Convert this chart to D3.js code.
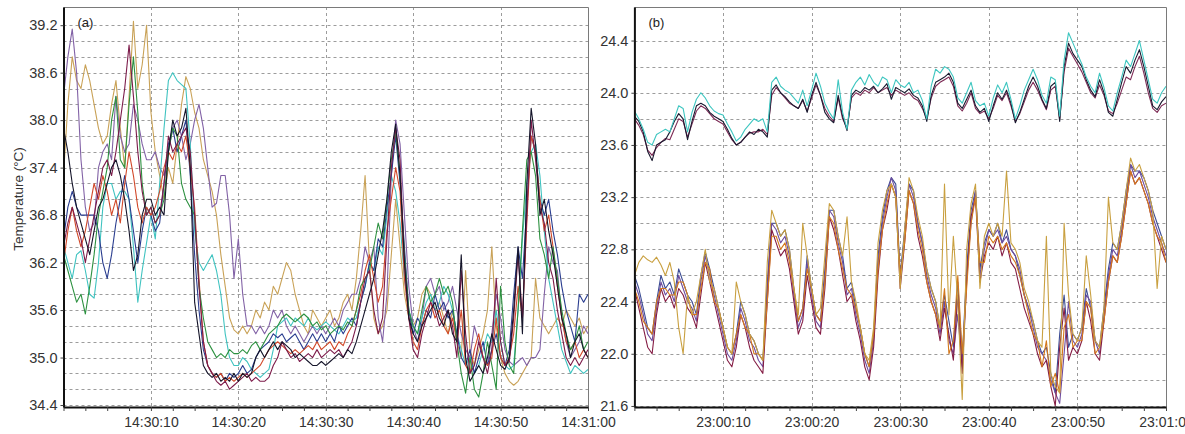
<!DOCTYPE html>
<html>
<head>
<meta charset="utf-8">
<script src="https://cdn.jsdelivr.net/npm/d3@7"></script>
<style>
  body { margin: 0; background: #fff; }
  text { font-family: Arial, "Liberation Sans", sans-serif; }
</style>
</head>
<body>
<script>
// sample times, one reading every half second over the minute
const STEP = 0.5;
const seconds = d3.range(0, 60 + STEP / 2, STEP);

// ---- panel (a) : 14:30:00 - 14:31:00 ----
const aGold = [37.3,38.2,38.8,38.5,38.4,38.7,38.5,38.2,37.9,37.7, 37.8,38.2,38.5,37.9,37.4,38.3,39.25,38.4,38.7,39.2,
  38.1,37.6,37.3,37.0,37.4,37.2,37.7,38.2,38.55,38.4, 38.1,37.9,37.5,37.3,37.1,36.8,36.3,35.9,35.5,35.35,
  35.3,35.4,35.3,35.4,35.6,35.5,35.7,35.6,35.9,35.8, 36.0,36.2,36.1,35.8,35.6,35.4,35.3,35.6,35.5,35.4,
  35.5,35.6,35.4,35.5,35.7,35.8,35.6,36.0,36.6,37.3, 36.2,35.5,35.3,35.4,35.6,36.3,37.0,36.4,35.8,35.5,
  35.4,35.5,35.8,35.9,35.8,35.6,35.7,35.5,35.3,35.6, 35.2,35.0,36.1,35.1,34.9,35.1,35.3,35.6,36.4,35.4,
  35.0,34.8,34.7,34.65,34.7,34.8,34.9,35.0,36.0,35.5, 35.4,35.3,35.4,35.5,35.4,35.6,35.5,35.4,35.5,35.3, 35.4];
const aPurple = [38.3,38.8,39.15,38.6,37.5,36.9,36.6,36.7,37.4,37.6, 37.7,37.5,38.3,37.8,37.6,37.7,38.2,38.0,37.7,37.5,
  37.5,37.6,37.4,37.3,37.6,37.9,38.0,37.8,37.5,37.7, 38.0,38.2,37.9,37.4,36.9,36.95,37.3,37.3,36.8,36.0,
  36.5,35.8,35.4,35.4,35.3,35.4,35.3,35.4,35.6,35.5, 35.6,35.4,35.3,35.4,35.3,35.2,35.3,35.4,35.3,35.4,
  35.3,35.4,35.5,35.4,35.6,35.7,35.8,35.8,36.0,36.4, 36.2,36.4,35.5,35.2,35.8,37.3,38.0,37.7,36.8,35.9,
  35.4,35.2,35.5,35.9,36.0,35.8,35.9,35.6,35.7,35.9, 35.6,35.3,35.1,35.0,35.4,35.2,35.0,34.9,35.3,35.8,
  35.5,35.1,34.95,34.9,34.95,35.0,34.9,35.0,35.0,35.1, 35.8,36.4,36.2,36.1,35.5,35.2,35.0,35.1,35.2,35.4, 35.3];
const aCyan = [36.4,36.2,36.0,36.3,36.35,36.1,35.8,35.75,36.2,36.9, 37.2,37.2,37.0,37.1,37.1,37.0,36.4,35.7,36.1,36.45,
  36.8,36.5,37.2,37.9,38.5,38.6,38.5,38.45,38.4,37.7, 36.6,36.2,36.1,36.2,36.3,36.1,35.8,35.3,35.0,34.9,
  34.9,35.0,34.95,34.85,34.8,34.75,34.8,34.85,35.1,35.4, 35.45,35.5,35.4,35.5,35.45,35.4,35.5,35.4,35.35,35.4,
  35.45,35.4,35.35,35.3,35.4,35.5,35.45,35.5,35.7,35.9, 36.2,36.1,36.4,36.3,36.8,37.3,37.1,36.7,36.0,35.6,
  35.4,35.3,35.5,35.7,35.8,35.6,35.7,35.9,35.8,35.6, 35.3,35.1,34.9,35.0,34.8,34.9,35.1,35.3,35.2,35.6,
  35.2,34.9,34.85,34.9,35.6,36.5,37.2,37.6,37.7,37.3, 36.6,36.0,35.7,35.4,35.1,34.95,34.8,34.9,34.85,34.8, 34.85];
const aNavy = [36.5,36.9,37.1,36.9,36.8,36.8,36.8,36.8,36.6,36.2, 36.0,36.3,36.7,37.0,37.3,37.0,36.6,36.2,36.6,36.9,
  36.8,36.6,36.7,37.2,37.7,37.9,37.6,37.8,38.0,37.3, 36.3,35.6,35.1,34.9,34.8,34.75,34.8,34.7,34.8,34.75,
  34.8,34.9,34.8,34.85,35.0,35.1,35.15,35.2,35.3,35.25, 35.3,35.2,35.25,35.3,35.2,35.1,35.2,35.3,35.2,35.3,
  35.2,35.3,35.2,35.4,35.3,35.4,35.5,35.4,35.7,35.9, 36.2,36.1,36.5,36.4,36.9,37.3,37.8,37.2,36.4,35.6,
  35.3,35.5,35.4,35.6,35.5,35.8,35.6,35.7,35.5,35.6, 35.3,35.0,34.9,35.1,34.8,35.0,35.2,34.9,35.1,35.3,
  35.0,34.9,35.1,35.8,36.4,36.0,36.9,37.8,37.6,37.0, 36.8,37.0,36.6,36.3,35.9,35.6,35.4,35.2,35.8,35.7, 35.8];
const aRed = [36.2,36.6,36.9,36.6,36.4,36.6,36.9,37.2,37.0,37.3, 37.1,36.8,37.0,36.7,37.2,37.6,37.3,36.9,36.7,36.9,
  36.8,36.9,37.1,37.4,37.6,37.5,37.7,37.6,37.8,37.4, 36.9,36.0,35.2,34.9,34.8,34.75,34.8,34.7,34.75,34.7,
  34.75,34.8,34.75,34.8,34.85,34.9,35.0,35.1,35.15,35.2, 35.15,35.1,35.05,35.1,35.05,35.1,35.15,35.1,35.2,35.1,
  35.15,35.2,35.1,35.2,35.15,35.3,35.4,35.6,35.8,36.1, 36.3,36.0,35.7,35.9,36.6,37.0,37.4,37.1,36.0,35.5,
  35.2,35.1,35.4,35.6,35.7,35.5,35.6,35.4,35.3,35.5, 35.2,35.6,34.9,34.8,35.1,35.3,35.0,34.9,35.0,35.5,
  35.0,34.9,35.0,35.3,35.9,35.5,36.7,37.8,37.6,37.0, 36.6,36.8,36.4,35.9,35.5,35.2,35.1,35.2,35.0,35.1, 35.0];
const aGreen = [36.3,36.1,35.9,35.7,35.8,35.55,35.9,36.3,36.8,37.1, 37.4,38.0,38.3,37.5,37.4,38.2,38.8,38.1,37.2,36.8,
  36.9,36.7,36.8,37.0,37.6,37.9,37.8,37.2,37.0,36.9, 36.8,35.9,35.5,35.2,35.1,35.0,35.05,35.0,35.1,35.05,
  35.05,35.1,35.05,35.15,35.2,35.1,35.2,35.3,35.35,35.4, 35.5,35.55,35.5,35.45,35.5,35.55,35.5,35.4,35.45,35.35,
  35.4,35.3,35.35,35.4,35.35,35.45,35.4,35.6,35.9,36.0, 36.1,36.4,36.7,36.5,37.0,37.5,37.85,37.3,36.3,35.6,
  35.4,35.3,35.6,35.9,35.7,35.8,36.0,35.8,35.9,35.7, 35.2,34.8,34.55,35.0,34.6,34.5,34.8,35.2,34.9,34.6,
  35.9,35.2,34.9,34.8,35.6,36.6,37.5,37.6,37.3,36.5, 36.3,36.0,36.4,36.0,35.6,35.3,35.1,35.2,35.4,35.1, 35.2];
const aMaroon = [36.4,36.7,36.9,36.7,36.5,36.2,36.5,36.8,37.1,37.4, 37.5,37.3,37.6,38.0,38.4,38.95,38.3,37.6,37.1,36.8,
  36.9,36.7,36.8,37.2,37.8,37.6,37.7,37.8,37.9,37.6, 36.8,35.9,35.2,34.9,34.8,34.7,34.65,34.7,34.6,34.65,
  34.7,34.75,34.8,34.7,34.75,34.7,34.7,34.75,34.9,35.0, 35.2,35.1,35.0,35.05,34.95,35.0,35.05,35.0,35.1,35.0,
  35.05,35.1,35.05,35.1,35.0,35.1,35.2,35.4,35.7,36.0, 36.1,35.6,35.3,35.5,36.5,37.4,37.9,37.5,36.2,35.5,
  35.1,35.0,35.3,35.5,35.7,35.6,35.4,35.5,35.6,35.4, 35.0,36.1,35.3,34.8,34.9,35.2,35.0,34.8,35.1,36.0,
  35.2,34.9,34.95,35.5,36.3,35.5,36.8,38.0,37.5,36.9, 36.7,36.2,36.0,35.6,35.3,35.0,34.9,35.0,34.9,35.0, 35.1];
const aBlack = [37.9,37.6,37.2,36.9,36.7,36.5,36.3,36.6,36.9,37.0, 37.2,37.4,37.5,37.3,37.0,36.6,36.1,36.3,36.8,37.0,
  37.0,36.8,36.9,36.8,37.6,38.0,37.8,37.9,38.15,37.4, 35.7,35.3,34.9,34.8,34.75,34.8,34.7,34.75,34.7,34.8,
  34.7,34.8,34.75,34.8,35.0,35.1,35.0,35.1,35.2,35.1, 35.2,35.15,35.1,35.0,35.05,35.0,34.95,34.9,34.9,34.95,
  34.9,34.95,35.0,35.05,35.0,35.1,35.05,35.2,35.4,35.6, 35.8,36.0,36.3,36.6,37.0,37.6,37.95,37.3,36.2,35.5,
  35.3,35.2,35.4,35.5,35.6,35.7,35.5,35.4,35.6,35.3, 35.2,36.3,35.0,34.7,34.8,34.9,34.8,35.0,35.3,35.1,
  34.9,34.85,35.0,35.6,36.4,35.3,37.2,38.15,37.7,36.8, 37.0,36.6,36.3,35.9,35.5,35.3,35.0,35.2,35.3,35.1, 35.0];

// ---- panel (b) : 23:00:00 - 23:01:00 ----
const bUpperMaroon = [23.8,23.75,23.68,23.56,23.52,23.58,23.62,23.65,23.64,23.72, 23.8,23.78,23.66,23.76,23.86,23.9,23.88,23.84,23.8,23.78,
  23.76,23.7,23.64,23.6,23.62,23.66,23.69,23.7,23.7,23.72, 23.68,23.98,24.04,24.0,23.96,23.92,23.9,23.88,23.94,23.86,
  23.96,24.06,23.98,23.88,23.82,23.78,23.96,23.8,23.73,23.96, 24.0,23.98,24.02,24.0,24.04,24.0,24.02,24.04,23.98,24.02,
  24.0,23.98,24.0,23.96,23.94,23.88,23.8,23.96,24.05,24.08, 24.1,24.12,24.05,23.9,23.86,23.92,24.0,23.88,23.84,23.86,
  23.8,23.88,23.98,23.94,24.0,23.9,23.78,23.84,23.93,24.02, 24.08,24.02,23.94,23.87,24.02,24.05,23.8,24.16,24.34,24.28,
  24.22,24.16,24.08,24.0,23.96,24.06,23.98,23.86,23.84,23.92, 24.02,24.12,24.1,24.2,24.28,24.15,24.0,23.88,23.85,23.9, 23.92];
const bUpperBlack = [23.82,23.78,23.7,23.55,23.48,23.6,23.62,23.64,23.7,23.78, 23.84,23.8,23.64,23.78,23.9,23.92,23.9,23.85,23.82,23.8,
  23.78,23.72,23.65,23.6,23.62,23.66,23.7,23.68,23.72,23.7, 23.66,24.02,24.06,24.0,23.97,23.93,23.9,23.88,23.95,23.85,
  23.98,24.08,23.98,23.85,23.8,23.77,23.98,23.82,23.71,23.98, 24.02,24.0,24.04,24.02,24.05,24.0,24.03,24.07,23.95,24.04,
  24.02,24.0,24.03,23.98,23.96,23.9,23.78,23.98,24.08,24.1, 24.12,24.15,24.08,23.92,23.88,23.95,24.02,23.9,23.85,23.88,
  23.78,23.9,24.0,23.95,24.02,23.92,23.77,23.85,23.95,24.05, 24.12,24.05,23.95,23.88,24.05,24.08,23.78,24.2,24.38,24.3,
  24.25,24.2,24.1,24.02,23.97,24.1,24.0,23.85,23.82,23.95, 24.08,24.2,24.15,24.25,24.33,24.2,24.05,23.9,23.87,23.93, 23.97];
const bUpperCyan = [23.86,23.8,23.72,23.62,23.6,23.68,23.7,23.72,23.7,23.8, 23.9,23.88,23.7,23.85,23.95,24.0,23.96,23.9,23.86,23.84,
  23.83,23.76,23.7,23.63,23.66,23.72,23.76,23.8,23.78,23.8, 23.7,24.08,24.12,24.05,24.02,24.0,23.96,23.92,24.02,23.9,
  24.02,24.15,24.05,23.92,23.85,23.8,24.1,23.85,23.72,24.02, 24.08,24.12,24.06,24.14,24.08,24.05,24.12,24.1,24.0,24.1,
  24.06,24.04,24.08,24.0,24.02,23.94,23.8,24.05,24.18,24.15, 24.2,24.18,24.12,23.96,23.92,24.0,24.08,23.94,23.9,23.92,
  23.82,23.96,24.06,24.0,24.08,23.95,23.8,23.9,24.02,24.1, 24.18,24.1,23.98,23.92,24.12,24.1,23.82,24.25,24.46,24.38,
  24.3,24.22,24.12,24.05,24.0,24.15,24.04,23.9,23.86,24.0, 24.12,24.25,24.2,24.3,24.4,24.25,24.1,23.95,23.92,24.0, 24.05];

const bLowerNavy = [22.6,22.5,22.35,22.2,22.15,22.4,22.6,22.5,22.55,22.45, 22.65,22.55,22.45,22.4,22.3,22.6,22.78,22.65,22.5,22.35,
  22.2,22.05,22.0,22.15,22.4,22.3,22.15,22.1,22.0,21.95, 22.55,23.0,23.0,22.9,22.95,22.8,22.5,22.25,22.35,22.75,
  22.5,22.3,22.25,22.65,23.1,23.1,22.9,22.75,22.5,22.55, 22.35,22.2,22.0,21.9,22.15,22.75,23.05,23.25,23.35,23.3,
  22.6,22.95,23.3,23.25,23.0,22.85,22.65,22.5,22.4,22.2, 22.45,22.25,22.05,22.55,21.95,22.65,23.1,23.25,22.65,22.85,
  22.95,22.9,23.0,22.85,22.95,22.8,22.75,22.6,22.45,22.35, 22.25,22.1,22.0,22.05,21.85,21.7,22.15,22.45,22.05,22.15,
  22.1,22.2,22.5,22.35,22.1,22.05,22.35,22.65,22.85,22.8, 23.0,23.25,23.45,23.4,23.4,23.35,23.25,23.1,23.0,22.9, 22.8];
const bLowerPurple = [22.55,22.45,22.3,22.15,22.1,22.35,22.55,22.45,22.5,22.4, 22.6,22.5,22.4,22.35,22.25,22.55,22.75,22.6,22.45,22.3,
  22.15,22.0,21.95,22.1,22.35,22.25,22.1,22.05,21.95,21.9, 22.5,23.0,22.95,22.85,22.9,22.75,22.45,22.2,22.3,22.7,
  22.45,22.25,22.2,22.6,23.1,23.05,22.85,22.7,22.45,22.5, 22.3,22.15,21.95,21.85,22.1,22.7,23.0,23.2,23.35,23.25,
  22.55,22.9,23.3,23.2,23.0,22.85,22.6,22.45,22.35,22.15, 22.4,22.1,22.0,22.3,21.9,22.6,23.0,23.25,22.6,22.8,
  22.95,22.9,22.95,22.85,22.9,22.8,22.75,22.65,22.45,22.35, 22.2,22.05,22.0,21.95,21.8,21.7,21.62,22.0,22.4,22.1,
  22.05,22.15,22.45,22.4,22.1,22.0,22.3,22.6,22.8,22.75, 22.95,23.2,23.45,23.35,23.4,23.3,23.2,23.05,22.95,22.85, 22.75];
const bLowerMaroon = [22.5,22.35,22.2,22.05,22.0,22.3,22.5,22.4,22.45,22.35, 22.5,22.45,22.35,22.3,22.2,22.45,22.7,22.55,22.4,22.25,
  22.1,21.95,21.9,22.05,22.3,22.2,22.05,21.95,21.9,21.85, 22.4,22.95,22.85,22.75,22.8,22.65,22.4,22.15,22.25,22.6,
  22.4,22.2,22.15,22.5,23.05,22.95,22.8,22.6,22.4,22.45, 22.25,22.1,21.9,21.8,22.05,22.6,22.95,23.1,23.3,23.2,
  22.5,22.85,23.25,23.15,22.9,22.75,22.55,22.4,22.3,22.1, 22.35,22.15,21.95,22.45,21.85,22.55,23.05,23.2,22.55,22.75,
  22.85,22.8,22.9,22.75,22.85,22.7,22.65,22.5,22.35,22.25, 22.15,22.0,21.9,21.95,21.75,21.6,22.05,22.35,21.95,22.05,
  22.0,22.1,22.4,22.25,22.0,21.95,22.25,22.55,22.75,22.7, 22.9,23.15,23.4,23.3,23.35,23.25,23.15,23.0,22.9,22.8, 22.7];
const bLowerOrange = [22.5,22.4,22.25,22.2,22.15,22.4,22.5,22.5,22.45,22.45, 22.55,22.55,22.45,22.3,22.3,22.5,22.7,22.65,22.4,22.35,
  22.2,22.05,22.0,22.15,22.3,22.2,22.15,22.0,22.0,21.95, 22.4,22.9,22.9,22.8,22.85,22.7,22.5,22.25,22.35,22.65,
  22.5,22.3,22.25,22.55,23.05,23.0,22.8,22.65,22.5,22.45, 22.35,22.2,22.0,21.9,22.15,22.65,22.95,23.15,23.3,23.2,
  22.6,22.85,23.25,23.15,22.95,22.8,22.55,22.4,22.3,22.2, 22.5,22.0,22.1,22.6,22.0,22.5,23.0,23.2,22.7,22.7,
  22.9,22.85,22.9,22.8,22.85,22.75,22.7,22.6,22.45,22.3, 22.15,22.1,21.9,22.1,21.75,21.85,21.7,22.2,22.3,22.05,
  22.1,22.1,22.4,22.35,22.0,22.05,22.25,22.55,22.75,22.7, 22.9,23.15,23.4,23.3,23.35,23.25,23.15,23.0,22.9,22.85, 22.7];
const bLowerGold = [22.6,22.7,22.75,22.72,22.7,22.74,22.68,22.6,22.7,22.55, 22.2,22.0,22.45,22.3,22.4,22.6,22.8,22.55,22.5,22.35,
  22.2,22.05,22.0,22.55,22.4,22.3,22.15,22.1,22.0,21.95, 22.7,23.1,23.0,22.9,22.95,22.8,22.5,22.3,23.0,22.75,
  22.5,22.3,22.35,22.75,23.15,23.1,22.9,22.75,23.05,22.55, 22.4,22.2,22.0,21.95,22.2,22.85,23.1,23.25,23.3,23.2,
  22.5,22.95,23.35,23.25,23.05,22.9,22.65,22.5,22.4,22.2, 23.3,22.3,22.9,22.4,21.65,22.8,23.15,23.3,22.5,22.9,
  23.0,22.9,23.0,22.9,23.4,22.85,22.8,22.7,22.5,22.4, 22.25,22.1,22.05,22.9,21.85,21.75,21.7,23.0,22.45,22.15,
  22.1,22.2,22.75,22.45,22.1,22.05,22.35,23.2,22.85,22.8, 23.0,23.25,23.5,23.4,23.45,23.35,23.25,23.1,22.5,22.9, 22.8];

// axis labels
const yTicksA = [34.4, 35.0, 35.6, 36.2, 36.8, 37.4, 38.0, 38.6, 39.2];
const yTicksB = [21.6, 22.0, 22.4, 22.8, 23.2, 23.6, 24.0, 24.4];
const xLabelsA = ["14:30:10", "14:30:20", "14:30:30", "14:30:40", "14:30:50", "14:31:00"];
const xLabelsB = ["23:00:10", "23:00:20", "23:00:30", "23:00:40", "23:00:50", "23:01:00"];

const W = 1185, H = 434;
const svg = d3.select("body").append("svg")
    .attr("width", W)
    .attr("height", H);

const panels = [
  {
    id: "a", tag: "(a)", left: 63.5, right: 588, top: 7, bottom: 407,
    yDomain: [34.375, 39.43], grid: d3.range(34.4, 39.21, 0.2),
    yTicks: yTicksA, xLabels: xLabelsA,
    series: [
      {values: aGold, color: "#c9a257"},
      {values: aPurple, color: "#8262a6"},
      {values: aCyan, color: "#3fc3c0"},
      {values: aNavy, color: "#2a3d8f"},
      {values: aRed, color: "#d2492a"},
      {values: aGreen, color: "#2d9140"},
      {values: aMaroon, color: "#7c1b4a"},
      {values: aBlack, color: "#15152a"}
    ]
  },
  {
    id: "b", tag: "(b)", left: 634.4, right: 1166, top: 7, bottom: 407,
    yDomain: [21.592, 24.657], grid: d3.range(21.6, 24.41, 0.2),
    yTicks: yTicksB, xLabels: xLabelsB,
    series: [
      {values: bUpperMaroon, color: "#7d2a55"},
      {values: bUpperBlack, color: "#1a1a30"},
      {values: bUpperCyan, color: "#3ec6c0"},
      {values: bLowerNavy, color: "#3c4c94"},
      {values: bLowerPurple, color: "#6e4c9e"},
      {values: bLowerMaroon, color: "#841c44"},
      {values: bLowerOrange, color: "#d4781c"},
      {values: bLowerGold, color: "#c9a040"}
    ]
  }
];

function drawPanel(p) {
  const x = d3.scaleLinear().domain([0, 60]).range([p.left, p.right]);
  const y = d3.scaleLinear().domain(p.yDomain).range([p.bottom, p.top]);
  const g = svg.append("g");

  // dashed grid
  g.selectAll("line.hgrid")
    .data(p.grid)
    .enter().append("line")
    .attr("x1", p.left).attr("x2", p.right)
    .attr("y1", d => Math.round(y(d)) + 0.5).attr("y2", d => Math.round(y(d)) + 0.5)
    .attr("stroke", "#9c9c9c").attr("stroke-dasharray", "3,3");
  g.selectAll("line.vgrid")
    .data([10, 20, 30, 40, 50])
    .enter().append("line")
    .attr("x1", d => Math.round(x(d)) + 0.5).attr("x2", d => Math.round(x(d)) + 0.5)
    .attr("y1", p.top).attr("y2", p.bottom)
    .attr("stroke", "#9c9c9c").attr("stroke-dasharray", "3,3");

  // thin frame top / right
  g.append("path")
    .attr("d", `M${p.left},${p.top + 0.5}H${p.right + 0.5}V${p.bottom}`)
    .attr("fill", "none").attr("stroke", "#7a7a7a");

  svg.append("clipPath").attr("id", "clip-" + p.id)
    .append("rect")
    .attr("x", p.left).attr("y", p.top)
    .attr("width", p.right - p.left).attr("height", p.bottom - p.top);

  const line = d3.line()
    .x((d, i) => x(seconds[i]))
    .y(d => y(d));

  g.append("g").attr("clip-path", `url(#clip-${p.id})`)
    .selectAll("path")
    .data(p.series)
    .enter().append("path")
    .attr("d", s => line(s.values))
    .attr("fill", "none")
    .attr("stroke", s => s.color)
    .attr("stroke-width", 1.1)
    .attr("stroke-linejoin", "round");

  // axes
  const xAxis = d3.axisBottom(x)
    .tickValues(d3.range(0, 60.01, 2.5))
    .tickSize(4).tickSizeOuter(0).tickPadding(6)
    .tickFormat(d => (d > 0 && d % 10 === 0) ? p.xLabels[d / 10 - 1] : "");
  const gx = g.append("g").attr("transform", `translate(0,${p.bottom})`).call(xAxis);
  gx.select(".domain").attr("stroke", "#111").attr("stroke-width", 2);
  gx.selectAll(".tick line").attr("stroke", "#444");
  gx.selectAll("text").attr("font-size", "14px").attr("fill", "#333");

  const yAxis = d3.axisLeft(y)
    .tickValues(p.yTicks)
    .tickFormat(d3.format(".1f"))
    .tickSize(3).tickSizeOuter(0).tickPadding(3);
  const gy = g.append("g").attr("transform", `translate(${p.left},0)`).call(yAxis);
  gy.select(".domain").attr("stroke", "#111").attr("stroke-width", 2);
  gy.selectAll(".tick line").attr("stroke", "#444");
  gy.selectAll("text").attr("font-size", "14.5px").attr("fill", "#333");

  g.append("text")
    .attr("x", p.left + 14).attr("y", 22)
    .attr("dy", "0.35em")
    .attr("font-size", "13px").attr("fill", "#222")
    .text(p.tag);
}

panels.forEach(drawPanel);

svg.append("text")
  .attr("transform", "translate(18,199) rotate(-90)")
  .attr("text-anchor", "middle")
  .attr("dy", "0.35em")
  .attr("font-size", "13.5px").attr("fill", "#333")
  .text("Temperature (°C)");
</script>
</body>
</html>
